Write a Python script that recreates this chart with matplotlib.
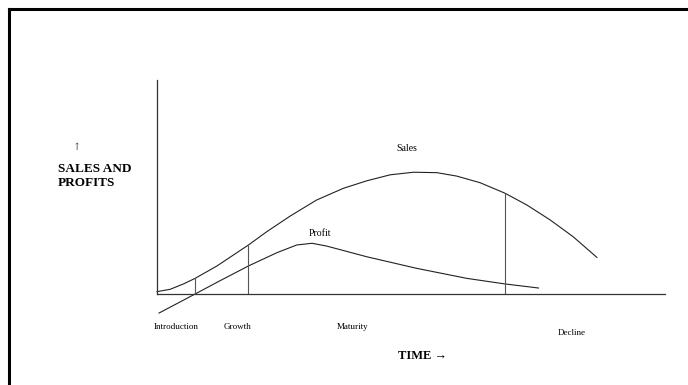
import matplotlib
matplotlib.use("Agg")
import matplotlib.pyplot as plt
from matplotlib.lines import Line2D

# time runs 0..100 along the axis, value 0..100 up the axis
sales_t = [0, 2.6, 5.2, 7.5, 11.8, 18.0, 21.6, 26.2, 31.4, 36.7, 41.3, 45.9,
           50.5, 55.1, 59.0, 63.6, 68.5, 72.8, 77.4, 81.9, 86.6]
sales_v = [1.1, 2.2, 4.7, 7.3, 13.1, 22.9, 29.1, 36.4, 43.9, 49.4, 52.9, 55.7,
           56.9, 56.7, 55.1, 52.0, 47.1, 41.6, 34.6, 26.8, 17.1]

profit_t = [0.4, 7.5, 12.4, 18.0, 23.6, 27.5, 30.5, 33.4, 41.3, 51.1,
            61.0, 68.5, 75.1]
profit_v = [-8.9, 0, 6.2, 13.1, 19.3, 22.9, 23.7, 22.4, 17.4, 12.0,
            7.3, 4.7, 2.8]

# stage boundaries and the sales level where each marker line stops
stage_t = [7.5, 18.0, 68.5]
stage_top = [7.3, 22.9, 47.1]

stage_names = ["Introduction", "Growth", "Maturity", "Decline"]
stage_label_t = [3.7, 15.9, 38.5, 81.7]
stage_label_v = [-15.4, -15.4, -15.4, -18.2]

W, H = 688, 385
fig = plt.figure(figsize=(W / 100, H / 100), dpi=100)
fig.patch.set_facecolor("white")

# thick frame at top and left of the page
fig.add_artist(Line2D([9 / W, 1], [1 - 9 / H, 1 - 9 / H], color="black", lw=2.2,
                      transform=fig.transFigure))
fig.add_artist(Line2D([9 / W, 9 / W], [0, 1 - 9 / H], color="black", lw=2.2,
                      transform=fig.transFigure))

ax = fig.add_axes([157 / W, (H - 294) / H, (665 - 157) / W, (294 - 80) / H])
ax.set_xlim(0, 100)
ax.set_ylim(0, 100)
ax.patch.set_alpha(0)
for s in ["top", "right"]:
	ax.spines[s].set_visible(False)
for s in ["left", "bottom"]:
	ax.spines[s].set_color("#333333")
	ax.spines[s].set_linewidth(0.9)
ax.set_xticks([])
ax.set_yticks([])

ax.plot(sales_t, sales_v, color="#222222", lw=0.8, clip_on=False)
ax.plot(profit_t, profit_v, color="#222222", lw=0.8, clip_on=False)
ax.vlines(stage_t, 0, stage_top, color="#555555", lw=0.8)

serif = "Liberation Serif"
for name, t, v in zip(stage_names, stage_label_t, stage_label_v):
	ax.text(t, v, name, ha="center", va="center", fontsize=6.5,
	        family=serif, clip_on=False)

ax.text(49.2, 68.2, "Sales", ha="center", va="center", fontsize=7, family=serif)
ax.text(32.1, 28.5, "Profit", ha="center", va="center", fontsize=7, family=serif)

fig.text(77 / W, 1 - 148 / H, "\u2191", ha="center", va="center", fontsize=7,
         family=["DejaVu Serif"], color="#444444")
fig.text(58 / W, 1 - 176 / H, "SALES AND\nPROFITS", ha="left", va="center",
         fontsize=9.5, family=serif, fontweight="bold", linespacing=1.3)
fig.text(422 / W, 1 - 356 / H, "TIME \u2192", ha="center", va="center",
         fontsize=9, family=[serif, "DejaVu Serif"], fontweight="bold")

fig.savefig("out.png", dpi=100)
